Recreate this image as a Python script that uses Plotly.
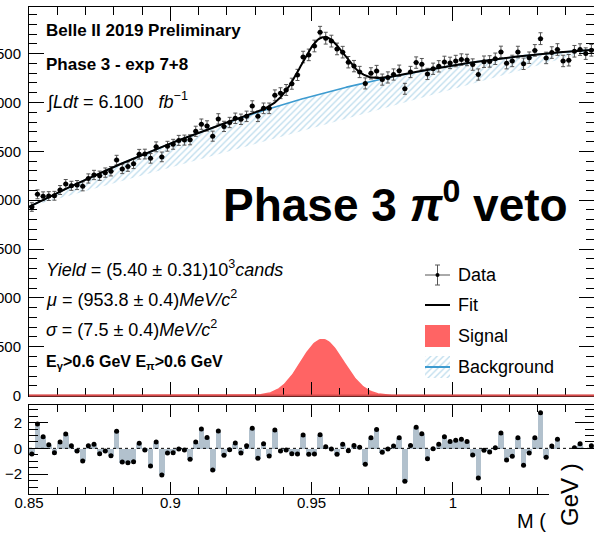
import numpy as np
import plotly.graph_objects as go

# ---------------- data ----------------
bin_lo = 0.85
bin_width = 0.002

counts = [1930, 2060, 2040, 2042, 2045, 2104, 2165, 2147, 2155, 2142,
          2222, 2258, 2250, 2282, 2296, 2410, 2320, 2344, 2372, 2470,
          2472, 2428, 2546, 2443, 2552, 2572, 2612, 2615, 2618, 2705,
          2778, 2760, 2655, 2832, 2755, 2795, 2838, 2828, 2858, 2963,
          2858, 2940, 2940, 3073, 3095, 3128, 3192, 3282, 3465, 3487,
          3578, 3718, 3658, 3628, 3548, 3515, 3412, 3372, 3312, 3195,
          3298, 3322, 3234, 3256, 3286, 3325, 3140, 3312, 3408, 3392,
          3292, 3345, 3370, 3415, 3405, 3424, 3439, 3435, 3388, 3286,
          3417, 3420, 3447, 3517, 3402, 3425, 3516, 3396, 3458, 3533,
          3653, 3456, 3511, 3542, 3425, 3432, 3524, 3541, 3500, 3534]

pulls = [-0.44, 1.88, 0.90, 0.28, -0.34, 0.49, 1.11, 0.21, -0.21, -0.98,
         0.21, 0.31, -0.41, -0.21, -0.57, 1.32, -1.06, -1.11, -1.03, 0.39,
         -0.13, -1.37, 0.49, -2.06, -0.36, -0.34, -0.05, -0.13, -0.85, 0.49,
         1.50, 0.85, -1.68, 1.34, -0.54, -0.10, 0.41, -0.36, 0.21, 1.55,
         -0.77, 0.36, -0.59, 1.42, -0.21, -0.13, -0.41, -0.44, 1.03, -0.46,
         -0.44, 1.06, 0.13, -0.05, -0.46, 0.31, -0.18, 0.23, 0.08, -1.24,
         0.83, 1.47, -0.31, -0.05, 0.18, 0.83, -2.55, 0.23, 1.63, 1.14,
         -0.80, -0.03, 0.31, 0.90, 0.54, 0.62, 0.70, 0.54, -0.52, -2.30,
         -0.15, -0.28, 0.05, 1.19, -0.90, -0.62, 0.83, -1.32, -0.36, 0.83,
         2.76, -0.70, 0.18, 0.70, -1.43, -1.40, 0.05, 0.35, -0.46, 0.20]

# background shape read at knots
bkg_knot_x = [0.85, 0.87, 0.89, 0.91, 0.93, 0.95, 0.97, 0.99, 1.01, 1.03, 1.05]
bkg_knot_y = [1935, 2203, 2466, 2695, 2893, 3057, 3204, 3335, 3425, 3490, 3540]

# signal parameters shown on the plot
sig_yield = 5400.0
sig_mu = 0.9538
sig_sigma = 0.0075

y_tick_vals = [0, 500, 1000, 1500, 2000, 2500, 3000, 3500]
y_tick_text = ["0", "500", "1000", "1500", "2000", "2500", "3000", "3500"]
x_tick_vals = [0.85, 0.90, 0.95, 1.00, 1.05]
x_tick_text = ["0.85", "0.9", "0.95", "1", "1.05"]
pull_tick_vals = [-2, 0, 2]
pull_tick_text = ["\u22122", "0", "2"]

# ---------------- model curves ----------------
n_bins = len(counts)
centers = bin_lo + bin_width * (np.arange(n_bins) + 0.5)
errs = np.sqrt(np.array(counts, dtype=float))

coef = np.polyfit(np.array(bkg_knot_x) - 0.95, bkg_knot_y, 4)
xs = np.linspace(0.85, 1.05, 501)
bkg = np.polyval(coef, xs - 0.95)
sig = sig_yield * bin_width / (sig_sigma * np.sqrt(2 * np.pi)) * np.exp(-0.5 * ((xs - sig_mu) / sig_sigma) ** 2)
fit = bkg + sig

# ---------------- geometry ----------------
W, H = 594, 533
ML, MR, MT, MB = 29, 0, 7, 39
PW, PH = W - ML - MR, H - MT - MB
X0, X1 = 0.85, 0.85 + PW / 2826.0
TOP_BOT_PX = 395.6
PULL_TOP_PX = 404.5
top_dom = [(H - MB - TOP_BOT_PX) / PH, 1.0]
bot_dom = [0.0, (H - MB - PULL_TOP_PX) / PH]
Y_TOP = (TOP_BOT_PX - MT) / 0.09771
PR = [-3.54, 3.40]


def px(x):
    return (x - ML) / PW


def py(y):
    return (H - MB - y) / PH


def dx(xp):  # pixel -> data x
    return X0 + (xp - ML) / PW * (X1 - X0)


def dy(yp):  # pixel -> data y (top panel)
    return (TOP_BOT_PX - yp) / (TOP_BOT_PX - MT) * Y_TOP


FONT = "Liberation Sans, Arial, Helvetica, sans-serif"
BLUE = "#3d9bd0"
HATCH = "#7fbcdc"
RED = "#ff6464"

fig = go.Figure()

# background hatched area (RooFit style: polygon closed by the chord)
fig.add_trace(go.Scatter(x=xs, y=bkg, mode="lines", line=dict(width=0, color=HATCH),
                         fill="toself", fillcolor="rgba(255,255,255,0)",
                         fillpattern=dict(shape="/", fgcolor=HATCH, bgcolor="rgba(255,255,255,0)",
                                          size=4.5, solidity=0.3),
                         hoverinfo="skip", showlegend=False))
# signal
fig.add_trace(go.Scatter(x=xs, y=sig, mode="lines", line=dict(width=1.5, color=RED),
                         fill="tozeroy", fillcolor=RED, showlegend=False))
# background line
fig.add_trace(go.Scatter(x=xs, y=bkg, mode="lines", line=dict(width=1.6, color=BLUE), showlegend=False))
# data
fig.add_trace(go.Scatter(x=centers, y=counts, mode="markers",
                         marker=dict(size=5, color="black"),
                         error_y=dict(type="data", array=errs, color="#555555", thickness=1, width=2),
                         error_x=dict(type="constant", value=bin_width / 2, color="#555555", thickness=1, width=0),
                         showlegend=False))
# fit
fig.add_trace(go.Scatter(x=xs, y=fit, mode="lines", line=dict(width=2, color="black"), showlegend=False))

# pulls
fig.add_trace(go.Bar(x=centers, y=pulls, width=bin_width, marker=dict(color="#b2c1cd", line=dict(width=0)),
                     xaxis="x2", yaxis="y2", showlegend=False))
fig.add_trace(go.Scatter(x=centers, y=pulls, mode="markers", marker=dict(size=5, color="black"),
                         xaxis="x2", yaxis="y2", showlegend=False))

# legend hatched box (glyph)
lx0, lx1, ly0, ly1 = 425, 450, 356, 378
fig.add_trace(go.Scatter(x=[dx(lx0), dx(lx1), dx(lx1), dx(lx0), dx(lx0)],
                         y=[dy(ly1), dy(ly1), dy(ly0), dy(ly0), dy(ly1)],
                         mode="lines", line=dict(width=0, color=HATCH), fill="toself",
                         fillcolor="rgba(255,255,255,0)",
                         fillpattern=dict(shape="/", fgcolor=HATCH, bgcolor="rgba(255,255,255,0)",
                                          size=4.5, solidity=0.3),
                         hoverinfo="skip", showlegend=False))

axis_common = dict(showline=True, linecolor="black", linewidth=1, mirror="ticks",
                   ticks="inside", tickcolor="black", tickwidth=1, showgrid=False, zeroline=False,
                   automargin=False,
                   tickfont=dict(family=FONT, size=15, color="black"))

fig.update_layout(
    width=W, height=H, margin=dict(l=ML, r=MR, t=MT, b=MB, autoexpand=False),
    paper_bgcolor="white", plot_bgcolor="white", showlegend=False, bargap=0,
    xaxis=dict(domain=[0, 1], range=[X0, X1], anchor="y", showticklabels=False,
               tickvals=x_tick_vals, ticklen=14,
               minor=dict(dtick=0.01, tick0=0.85, ticklen=8, ticks="inside", tickcolor="black"),
               **axis_common),
    yaxis=dict(domain=top_dom, range=[0, Y_TOP], anchor="x",
               tickvals=y_tick_vals, ticktext=y_tick_text, ticklen=15, ticklabelstandoff=4,
               minor=dict(dtick=100, tick0=0, ticklen=8, ticks="inside", tickcolor="black"),
               **axis_common),
    xaxis2=dict(domain=[0, 1], range=[X0, X1], anchor="y2",
                tickvals=x_tick_vals, ticktext=x_tick_text, ticklen=12, ticklabelstandoff=-5,
                minor=dict(dtick=0.01, tick0=0.85, ticklen=7, ticks="inside", tickcolor="black"),
                **axis_common),
    yaxis2=dict(domain=bot_dom, range=PR, anchor="x2",
                tickvals=pull_tick_vals, ticktext=pull_tick_text, ticklen=19, ticklabelstandoff=3,
                minor=dict(dtick=0.5, tick0=0, ticklen=9, ticks="inside", tickcolor="black"),
                **axis_common),
)

shapes = []
# dotted zero line in pull panel
shapes.append(dict(type="line", xref="x2", yref="y2", x0=X0, x1=X1, y0=0, y1=0,
                   line=dict(color="black", width=1, dash="dot"), layer="above"))
# signal tail drawn along the zero line of the top panel
shapes.append(dict(type="line", xref="paper", yref="paper", x0=0, x1=1, y0=top_dom[0], y1=top_dom[0],
                   line=dict(color="#d44a4a", width=2), layer="above"))
# legend glyphs
shapes.append(dict(type="line", xref="paper", yref="paper", x0=px(425), x1=px(450), y0=py(275), y1=py(275),
                   line=dict(color="#555555", width=1)))
shapes.append(dict(type="line", xref="paper", yref="paper", x0=px(437.5), x1=px(437.5), y0=py(265), y1=py(285),
                   line=dict(color="#555555", width=1)))
for yy in (265, 285):
    shapes.append(dict(type="line", xref="paper", yref="paper", x0=px(435), x1=px(440), y0=py(yy), y1=py(yy),
                       line=dict(color="#555555", width=1)))
shapes.append(dict(type="circle", xref="paper", yref="paper", x0=px(435.5), x1=px(439.5), y0=py(273), y1=py(277),
                   fillcolor="black", line=dict(width=0)))
shapes.append(dict(type="line", xref="paper", yref="paper", x0=px(425), x1=px(450), y0=py(305), y1=py(305),
                   line=dict(color="black", width=2)))
shapes.append(dict(type="rect", xref="paper", yref="paper", x0=px(425), x1=px(450), y0=py(347), y1=py(325),
                   fillcolor=RED, line=dict(width=0)))
shapes.append(dict(type="line", xref="paper", yref="paper", x0=px(425), x1=px(450), y0=py(367), y1=py(367),
                   line=dict(color=BLUE, width=2)))
# overlapping white box at the bottom right corner
shapes.append(dict(type="rect", xref="paper", yref="paper", x0=px(549), x1=px(600), y0=py(540), y1=py(449),
                   fillcolor="white", line=dict(width=0), layer="above"))
fig.update_layout(shapes=shapes)

anns = []


def ann(text, x, y, size, xanchor="left", yanchor="middle", angle=0):
    anns.append(dict(text=text, x=px(x), y=py(y), xref="paper", yref="paper", showarrow=False,
                     xanchor=xanchor, yanchor=yanchor, textangle=angle,
                     font=dict(family=FONT, size=size, color="black")))


ann("<b>Belle II 2019 Preliminary</b>", 44, 31, 17)
ann("<b>Phase 3 - exp 7+8</b>", 44, 64, 17)
ann("<i>\u222bLdt</i> = 6.100 \u00a0\u00a0<i>fb</i><sup>\u22121</sup>", 44, 100, 18)
ann("<b>Phase 3 <i>\u03c0</i><sup>0</sup> veto</b>", 221, 202, 46)
ann("<i>Yield</i> = (5.40 \u00b1 0.31)10<sup>3</sup><i>cands</i>", 44, 268, 18)
ann("<i>\u03bc</i> = (953.8 \u00b1 0.4)<i>MeV/c</i><sup>2</sup>", 44, 298, 18)
ann("<i>\u03c3</i> = (7.5 \u00b1 0.4)<i>MeV/c</i><sup>2</sup>", 44, 328, 18)
ann("<b>E<sub>\u03b3</sub>&gt;0.6 GeV E<sub>\u03c0</sub>&gt;0.6 GeV</b>", 44, 362, 16)
ann("Data", 456, 275, 18)
ann("Fit", 456, 305, 18)
ann("Signal", 456, 336, 18)
ann("Background", 456, 367, 18)
ann("M (", 515, 521, 20)
ann("GeV )", 569, 495, 24, xanchor="center", angle=-90)
fig.update_layout(annotations=anns)

fig.write_html("out.html",
               post_script="document.body.style.margin='0px';document.body.style.padding='0px';")
